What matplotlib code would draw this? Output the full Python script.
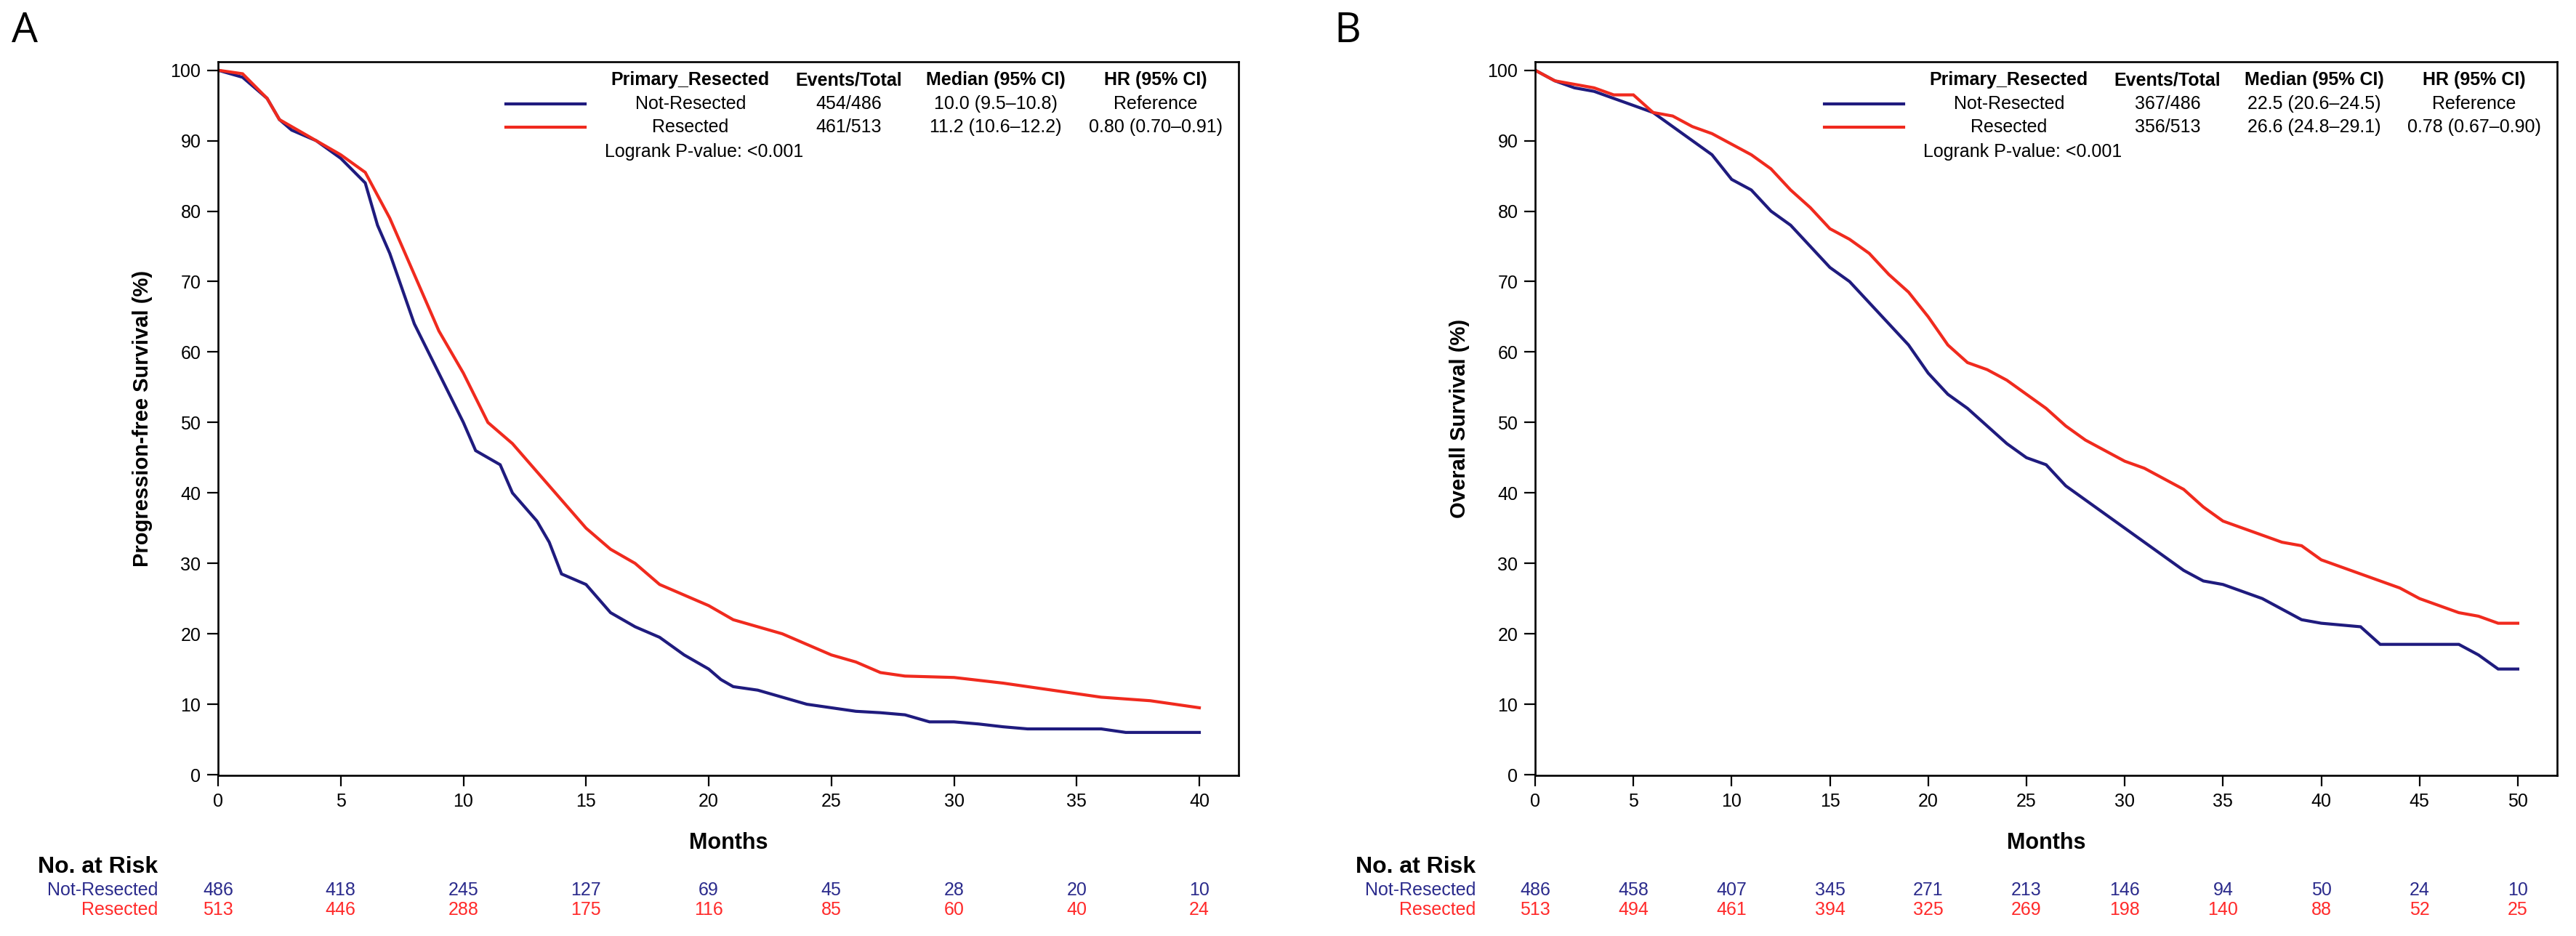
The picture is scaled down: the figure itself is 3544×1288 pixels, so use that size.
import matplotlib
matplotlib.use("Agg")
import matplotlib.pyplot as plt
from matplotlib.transforms import blended_transform_factory

plt.rcParams['font.family'] = ['Liberation Sans', 'DejaVu Sans']

W, H = 3544, 1288
BLUE = '#1f1b7e'
RED = '#f02a1e'
RISK_BLUE = '#2b2b8c'
RISK_RED = '#ff2a2a'

# ---------------- data: Panel A (PFS) ----------------
pfs_nr_t = [0, 1, 2, 2.5, 3, 4, 5, 6, 6.5, 7, 8, 9, 10, 10.5, 11, 11.5, 12, 13, 13.5, 14, 15, 15.5, 16, 17, 18, 19, 20, 20.5, 21, 22, 23, 24, 25, 26, 27, 28, 29, 30, 31, 32, 33, 36, 37, 40]
pfs_nr_s = [100, 99, 96, 93, 91.5, 90, 87.5, 84, 78, 74, 64, 57, 50, 46, 45, 44, 40, 36, 33, 28.5, 27, 25, 23, 21, 19.5, 17, 15, 13.5, 12.5, 12, 11, 10, 9.5, 9, 8.8, 8.5, 7.5, 7.5, 7.2, 6.8, 6.5, 6.5, 6, 6]
pfs_r_t = [0, 1, 2, 2.5, 3, 4, 5, 6, 7, 8, 9, 10, 11, 12, 13, 14, 15, 16, 17, 18, 19, 20, 21, 22, 23, 24, 25, 26, 27, 28, 30, 32, 34, 36, 38, 40]
pfs_r_s = [100, 99.5, 96, 93, 92, 90, 88, 85.5, 79, 71, 63, 57, 50, 47, 43, 39, 35, 32, 30, 27, 25.5, 24, 22, 21, 20, 18.5, 17, 16, 14.5, 14, 13.8, 13, 12, 11, 10.5, 9.5]

# ---------------- data: Panel B (OS) ----------------
os_nr_t = [0, 1, 2, 3, 4, 5, 6, 7, 8, 9, 10, 11, 12, 13, 14, 15, 16, 17, 18, 19, 20, 21, 22, 23, 24, 25, 26, 27, 28, 29, 30, 31, 32, 33, 34, 35, 36, 37, 38, 39, 40, 42, 43, 47, 48, 49, 50]
os_nr_s = [100, 98.5, 97.5, 97, 96, 95, 94, 92, 90, 88, 84.5, 83, 80, 78, 75, 72, 70, 67, 64, 61, 57, 54, 52, 49.5, 47, 45, 44, 41, 39, 37, 35, 33, 31, 29, 27.5, 27, 26, 25, 23.5, 22, 21.5, 21, 18.5, 18.5, 17, 15, 15]
os_r_t = [0, 1, 2, 3, 4, 5, 6, 7, 8, 9, 10, 11, 12, 13, 14, 15, 16, 17, 18, 19, 20, 21, 22, 23, 24, 25, 26, 27, 28, 29, 30, 31, 32, 33, 34, 35, 36, 37, 38, 39, 40, 41, 42, 43, 44, 45, 46, 47, 48, 49, 50]
os_r_s = [100, 98.5, 98, 97.5, 96.5, 96.5, 94, 93.5, 92, 91, 89.5, 88, 86, 83, 80.5, 77.5, 76, 74, 71, 68.5, 65, 61, 58.5, 57.5, 56, 54, 52, 49.5, 47.5, 46, 44.5, 43.5, 42, 40.5, 38, 36, 35, 34, 33, 32.5, 30.5, 29.5, 28.5, 27.5, 26.5, 25, 24, 23, 22.5, 21.5, 21.5]

# ---------------- legend / table text ----------------
groups = ['Not-Resected', 'Resected']
header = ['Primary_Resected', 'Events/Total', 'Median (95% CI)', 'HR (95% CI)']
pfs_events = ['454/486', '461/513']
pfs_median = ['10.0 (9.5\u201310.8)', '11.2 (10.6\u201312.2)']
pfs_hr = ['Reference', '0.80 (0.70\u20130.91)']
os_events = ['367/486', '356/513']
os_median = ['22.5 (20.6\u201324.5)', '26.6 (24.8\u201329.1)']
os_hr = ['Reference', '0.78 (0.67\u20130.90)']
logrank = 'Logrank P-value: <0.001'

pfs_risk_t = [0, 5, 10, 15, 20, 25, 30, 35, 40]
pfs_risk_nr = [486, 418, 245, 127, 69, 45, 28, 20, 10]
pfs_risk_r = [513, 446, 288, 175, 116, 85, 60, 40, 24]
os_risk_t = [0, 5, 10, 15, 20, 25, 30, 35, 40, 45, 50]
os_risk_nr = [486, 458, 407, 345, 271, 213, 146, 94, 50, 24, 10]
os_risk_r = [513, 494, 461, 394, 325, 269, 198, 140, 88, 52, 25]

fig = plt.figure(figsize=(W / 100, H / 100), dpi=100)


def fx(x):
    return x / W


def fy(y):
    return 1 - y / H


def make_panel(left_px, right_px, xmax, xticks, t_nr, s_nr, t_r, s_r, ylabel,
               events, median, hr, risk_t, risk_nr, risk_r, letter, letter_x,
               risk_label_right):
    top_px, bottom_px = 85, 1067
    ax = fig.add_axes([fx(left_px), fy(bottom_px), (right_px - left_px) / W,
                       (bottom_px - top_px) / H])
    ax.plot(t_nr, s_nr, color=BLUE, lw=3.0, solid_joinstyle='miter')
    ax.plot(t_r, s_r, color=RED, lw=3.0, solid_joinstyle='miter')
    ax.set_xlim(0, xmax)
    ax.set_ylim(-0.1, 101.2)
    ax.set_xticks(xticks)
    ax.set_yticks(range(0, 101, 10))
    for sp in ax.spines.values():
        sp.set_linewidth(1.9)
    ax.tick_params(direction='out', length=11, width=1.6, labelsize=18,
                   pad=6, colors='black')
    ax.set_xlabel('Months', fontsize=22, fontweight='bold', labelpad=22)
    ax.set_ylabel(ylabel, fontsize=21, fontweight='bold', labelpad=18)

    # legend-like table inside the axes (top right)
    cols = [right_px - 754, right_px - 536, right_px - 334, right_px - 114]
    rows = [110, 143, 175]
    for c, h in zip(cols, header):
        fig.text(fx(c), fy(rows[0]), h, ha='center', va='center',
                 fontsize=18, fontweight='bold')
    vals = [groups, events, median, hr]
    for ri in range(2):
        for c, v in zip(cols, vals):
            fig.text(fx(c), fy(rows[ri + 1]), v[ri], ha='center', va='center',
                     fontsize=18)
    for ri, col in enumerate([BLUE, RED]):
        fig.add_artist(plt.Line2D([fx(right_px - 1008), fx(right_px - 899)],
                                  [fy(rows[ri + 1]), fy(rows[ri + 1])],
                                  color=col, lw=3.0,
                                  transform=fig.transFigure))
    fig.text(fx(cols[0] - 118), fy(209), logrank, ha='left', va='center',
             fontsize=18)

    # risk table
    tr = blended_transform_factory(ax.transData, fig.transFigure)
    fig.text(fx(risk_label_right), fy(1193), 'No. at Risk', ha='right',
             va='center', fontsize=23, fontweight='bold')
    fig.text(fx(risk_label_right), fy(1225), groups[0], ha='right',
             va='center', fontsize=18, color=RISK_BLUE)
    fig.text(fx(risk_label_right), fy(1252), groups[1], ha='right',
             va='center', fontsize=18, color=RISK_RED)
    for t, a, b in zip(risk_t, risk_nr, risk_r):
        ax.text(t, fy(1225), str(a), transform=tr, ha='center', va='center',
                fontsize=18, color=RISK_BLUE)
        ax.text(t, fy(1252), str(b), transform=tr, ha='center', va='center',
                fontsize=18, color=RISK_RED)

    fig.text(fx(letter_x), fy(43), letter, ha='left', va='center',
             fontsize=41, family=['Open Sans', 'DejaVu Sans'])
    return ax


make_panel(300, 1704, 41.6, list(range(0, 41, 5)), pfs_nr_t, pfs_nr_s,
           pfs_r_t, pfs_r_s, 'Progression-free Survival (%)', pfs_events,
           pfs_median, pfs_hr, pfs_risk_t, pfs_risk_nr, pfs_risk_r, 'A', 16,
           217)
make_panel(2112, 3518, 52.0, list(range(0, 51, 5)), os_nr_t, os_nr_s,
           os_r_t, os_r_s, 'Overall Survival (%)', os_events, os_median,
           os_hr, os_risk_t, os_risk_nr, os_risk_r, 'B', 1835, 2030)

fig.savefig('out.png', dpi=100)
